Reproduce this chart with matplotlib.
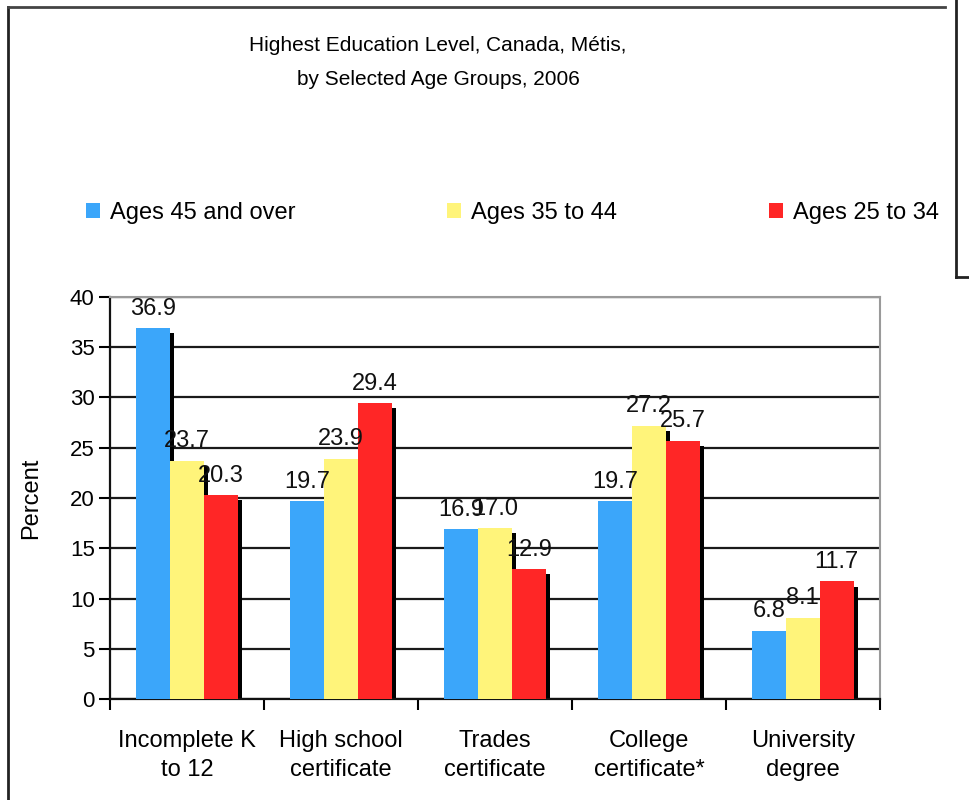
# %%
# Import packages and libraries
import numpy as np
import matplotlib
matplotlib.use("Agg")
import matplotlib.pyplot as plt
from matplotlib.lines import Line2D
from matplotlib.patches import Patch

plt.rcParams['font.family'] = ['Liberation Sans', 'DejaVu Sans']

# %%
# Chart data
categories = ["Incomplete K\nto 12", "High school\ncertificate", "Trades\ncertificate",
              "College\ncertificate*", "University\ndegree"]
series_names = ["Ages 45 and over", "Ages 35 to 44", "Ages 25 to 34"]
ages_45_over = [36.9, 19.7, 16.9, 19.7, 6.8]
ages_35_44 = [23.7, 23.9, 17.0, 27.2, 8.1]
ages_25_34 = [20.3, 29.4, 12.9, 25.7, 11.7]
colors = ["#3BA6FA", "#FFF47A", "#FF2626"]
y_ticks = [0, 5, 10, 15, 20, 25, 30, 35, 40]

title = "Highest Education Level, Canada, Métis,\nby Selected Age Groups, 2006"

# %%
# Draw the chart
fig = plt.figure(figsize=(9.69, 8.0), dpi=100)
ax = fig.add_axes([0.1135, 0.126, 0.7945, 0.503])

x = np.arange(len(categories))
width = 0.22
all_series = [ages_45_over, ages_35_44, ages_25_34]

# Shadows first, so the next bar covers them
for i, vals in enumerate(all_series):
    offs = (i - 1) * width
    ax.bar(x + offs + 0.026, np.array(vals) - 0.5, width, color="black", zorder=2)

for i, vals in enumerate(all_series):
    offs = (i - 1) * width
    bars = ax.bar(x + offs, vals, width, color=colors[i], label=series_names[i], zorder=3)
    for b, v in zip(bars, vals):
        ax.annotate(f"{v:.1f}", (b.get_x() + b.get_width() / 2, v),
                    xytext=(0, 6), textcoords="offset points",
                    ha="center", va="bottom", fontsize=17, color="#111111", zorder=5)

ax.set_xlim(-0.5, len(categories) - 0.5)
ax.set_ylim(0, 40)
ax.set_yticks(y_ticks)
ax.set_xticks(x)
ax.set_xticklabels(categories, fontsize=17, linespacing=1.4)
ax.set_xticks(np.arange(len(categories) + 1) - 0.5, minor=True)
ax.tick_params(axis="x", which="major", length=0, pad=22)
ax.tick_params(axis="x", which="minor", length=8, width=1.5, direction="out")
ax.tick_params(axis="y", length=8, width=1.5, direction="out", labelsize=16, pad=3)
ax.yaxis.grid(True, color="#1a1a1a", linewidth=1.6)
ax.set_axisbelow(True)
ax.set_ylabel("Percent", fontsize=17, labelpad=20)

for s in ["left", "bottom"]:
    ax.spines[s].set_linewidth(1.6)
    ax.spines[s].set_color("#111111")
for s in ["top", "right"]:
    ax.spines[s].set_linewidth(1.5)
    ax.spines[s].set_color("#9a9a9a")

# Legend
handles = [Patch(facecolor=c, edgecolor="none") for c in colors]
fig.legend(handles, series_names, loc="center left", bbox_to_anchor=(0.0888, 0.734),
           ncol=3, frameon=False, fontsize=17, handlelength=0.6, handleheight=0.6,
           handletextpad=0.42, columnspacing=6.42, borderaxespad=0, borderpad=0)

fig.text(0.452, 0.922, title, ha="center", va="center", fontsize=15, linespacing=2.0)

# Outer frame lines
fig.add_artist(Line2D([0.0083, 0.0083], [0.0, 0.991], color="#222222", lw=2,
                      transform=fig.transFigure))
fig.add_artist(Line2D([0.0083, 0.975], [0.991, 0.991], color="#444444", lw=2,
                      transform=fig.transFigure))
fig.add_artist(Line2D([0.9866, 0.9866], [1.0, 0.654], color="#222222", lw=2,
                      transform=fig.transFigure))
fig.add_artist(Line2D([0.9866, 1.0], [0.654, 0.654], color="#222222", lw=2,
                      transform=fig.transFigure))

fig.savefig("out.png", dpi=100)
